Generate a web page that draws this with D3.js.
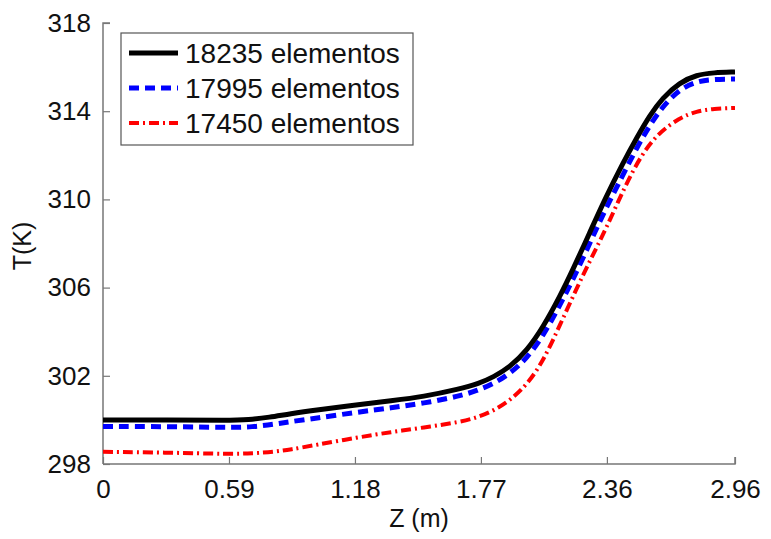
<html>
<head>
  <script src="https://d3js.org/d3.v7.min.js"></script>
  <style>
    body { margin: 0; background: #fff; }
    text { font-family: Arial, "Liberation Sans", sans-serif; fill: #111; }
  </style>
</head>
<body>
  <svg id="chart" width="771" height="539" style="background:#fff"></svg>
  <script>
    // values
    const zBlack = [0, 0.30, 0.59, 0.68, 0.78, 0.876, 1.00, 1.19, 1.35, 1.50, 1.67, 1.76, 1.83, 1.906, 1.986, 2.061, 2.14, 2.20, 2.28, 2.35, 2.435, 2.50, 2.56, 2.62, 2.70, 2.78, 2.86, 2.96];
    const tBlack = [300.0, 300.0, 299.97, 300.0, 300.12, 300.28, 300.45, 300.68, 300.87, 301.05, 301.4, 301.65, 301.95, 302.4, 303.15, 304.2, 305.6, 306.8, 308.5, 310.0, 311.65, 312.8, 313.8, 314.6, 315.3, 315.65, 315.75, 315.78];

    const zBlue = [0, 0.30, 0.59, 0.70, 0.80, 0.876, 1.00, 1.19, 1.35, 1.50, 1.67, 1.75, 1.83, 1.906, 1.986, 2.061, 2.14, 2.20, 2.28, 2.35, 2.435, 2.50, 2.56, 2.62, 2.70, 2.78, 2.86, 2.96];
    const tBlue = [299.7, 299.7, 299.65, 299.68, 299.8, 299.92, 300.08, 300.35, 300.55, 300.75, 301.08, 301.32, 301.65, 302.1, 302.8, 303.8, 305.2, 306.35, 308.0, 309.5, 311.1, 312.35, 313.35, 314.2, 315.0, 315.35, 315.45, 315.46];

    const zRed = [0, 0.30, 0.59, 0.70, 0.80, 0.876, 1.00, 1.19, 1.35, 1.50, 1.67, 1.75, 1.83, 1.906, 1.986, 2.061, 2.14, 2.22, 2.29, 2.36, 2.44, 2.52, 2.60, 2.70, 2.78, 2.86, 2.96];
    const tRed = [298.55, 298.52, 298.45, 298.48, 298.55, 298.65, 298.87, 299.2, 299.45, 299.65, 299.9, 300.1, 300.42, 300.88, 301.6, 302.65, 304.3, 306.0, 307.4, 308.75, 310.5, 312.0, 313.0, 313.7, 314.0, 314.12, 314.15];

    const seriesNames = ["18235 elementos", "17995 elementos", "17450 elementos"];
    const xTicks = [0, 0.59, 1.18, 1.77, 2.36, 2.96];
    const yTicks = [298, 302, 306, 310, 314, 318];

    const series = [
      { name: seriesNames[0], z: zBlack, t: tBlack, color: "#000", width: 5, dash: null },
      { name: seriesNames[1], z: zBlue, t: tBlue, color: "#0000ff", width: 5, dash: "10,6" },
      { name: seriesNames[2], z: zRed, t: tRed, color: "#ff0000", width: 4, dash: "10,4,2,4" }
    ];

    const svg = d3.select("#chart");
    const margin = { top: 23, right: 36, bottom: 75, left: 103 };
    const width = 771 - margin.left - margin.right;
    const height = 539 - margin.top - margin.bottom;

    const plot = svg.append("g")
      .attr("transform", "translate(" + margin.left + "," + margin.top + ")");

    const x = d3.scaleLinear().domain([0, 2.96]).range([0, width]);
    const y = d3.scaleLinear().domain([298, 318]).range([height, 0]);

    // axes, ticks pointing inward like matlab
    const xAxis = plot.append("g")
      .attr("transform", "translate(0," + height + ")")
      .call(d3.axisBottom(x).tickValues(xTicks).tickSize(-7).tickPadding(16)
        .tickFormat(d => d === 0 ? "0" : d3.format(".2f")(d)));
    const yAxis = plot.append("g")
      .call(d3.axisLeft(y).tickValues(yTicks).tickSize(-7).tickPadding(12).tickFormat(d3.format("d")));

    [xAxis, yAxis].forEach(a => {
      a.select(".domain").attr("stroke", "#777").attr("stroke-width", 1.5);
      a.selectAll(".tick line").attr("stroke", "#777").attr("stroke-width", 1.2);
      a.selectAll(".tick text").attr("font-size", 26).attr("fill", "#111")
        .attr("font-family", "Arial, 'Liberation Sans', sans-serif");
    });
    xAxis.select(".domain").attr("d", "M0,0H" + width + "V-7");
    yAxis.select(".domain").attr("d", "M7,0H0V" + height);

    const line = d3.line()
      .x(d => x(d[0]))
      .y(d => y(d[1]))
      .curve(d3.curveBasis);

    // draw red first so black sits on top
    series.slice().reverse().forEach(s => {
      plot.append("path")
        .datum(d3.zip(s.z, s.t))
        .attr("fill", "none")
        .attr("stroke", s.color)
        .attr("stroke-width", s.width)
        .attr("stroke-dasharray", s.dash)
        .attr("d", line);
    });

    // legend
    const legend = svg.append("g").attr("transform", "translate(121,33)");
    legend.append("rect")
      .attr("width", 292).attr("height", 112)
      .attr("fill", "#fff").attr("stroke", "#555").attr("stroke-width", 1.2);
    series.forEach((s, i) => {
      const row = legend.append("g").attr("transform", "translate(0," + (20 + i * 35) + ")");
      row.append("line")
        .attr("x1", 8).attr("x2", 57)
        .attr("stroke", s.color).attr("stroke-width", s.width)
        .attr("stroke-dasharray", s.dash);
      row.append("text")
        .attr("x", 64).attr("dy", "0.35em")
        .attr("font-size", 28)
        .text(s.name);
    });

    // axis titles
    svg.append("text")
      .attr("x", margin.left + width / 2).attr("y", 527)
      .attr("text-anchor", "middle").attr("font-size", 25)
      .text("Z (m)");
    svg.append("text")
      .attr("transform", "translate(31,246) rotate(-90)")
      .attr("text-anchor", "middle").attr("font-size", 25)
      .text("T(K)");
  </script>
</body>
</html>
